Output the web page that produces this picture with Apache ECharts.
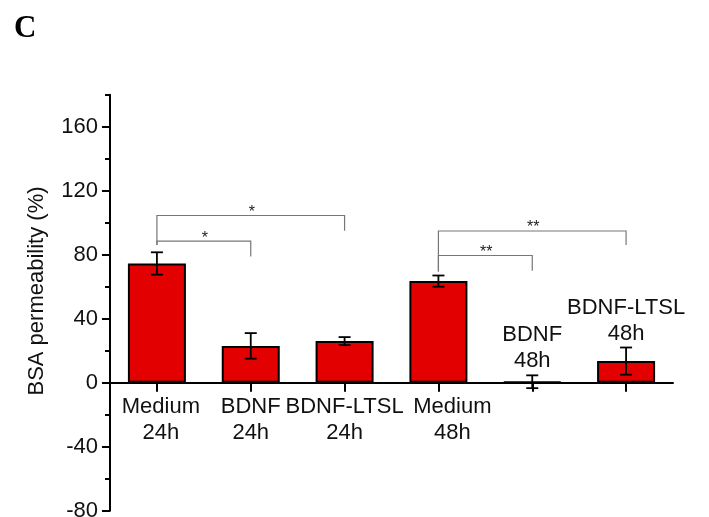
<!DOCTYPE html>
<html>
<head>
<meta charset="utf-8">
<script src="https://cdn.jsdelivr.net/npm/echarts@6/dist/echarts.min.js"></script>
<style>html,body{margin:0;padding:0;background:#fff}#c{width:709px;height:517px}</style>
</head>
<body>
<div id="c"></div>
<script>
// ---- data ----
var categories = ['Medium\n24h', 'BDNF\n24h', 'BDNF-LTSL\n24h', 'Medium\n48h', 'BDNF\n48h', 'BDNF-LTSL\n48h'];
var labelAbove = [false, false, false, false, true, true];
var values = [74.5, 23, 26, 63.5, 0.6, 13.5];
var errors = [7, 8, 2.5, 3.5, 4, 8.5];
var yTicks = [-80, -40, 0, 40, 80, 120, 160];
var yMin = -80, yMax = 180;
var bracketFrom = [0, 0, 3, 3];
var bracketTo = [1, 2, 4, 5];
var bracketLevel = [88.5, 104.5, 79.5, 94.8];
var bracketLeftEnd = [86, 86, 69.5, 69.5];
var bracketRightEnd = [78.8, 95, 70, 86];
var bracketLabels = ['*', '*', '**', '**'];

var FONT = 'Arial, "Liberation Sans", sans-serif';
var chart = echarts.init(document.getElementById('c'), null, {renderer: 'canvas'});

var GRID_TOP = 94.7, GRID_BOTTOM = 6.3, H = 517;
var plotH = H - GRID_TOP - GRID_BOTTOM;
// shift x axis from grid bottom up to the y = 0 line
var zeroOffset = -plotH * (0 - yMin) / (yMax - yMin);

// per-label horizontal nudges (style only)
var labelPadLeft = [8, 0, 0, 28, 0, 0];
var axisData = categories.map(function (c, i) {
  return {value: c, textStyle: {padding: [0, 0, 0, labelPadLeft[i]]}};
});

var errData = values.map(function (v, i) { return [i, v, errors[i]]; });
var brData = bracketFrom.map(function (f, i) {
  return [f, bracketTo[i], bracketLevel[i], bracketLeftEnd[i], bracketRightEnd[i]];
});

var option = {
  animation: false,
  backgroundColor: '#fff',
  grid: {left: 110, right: 36, top: GRID_TOP, bottom: GRID_BOTTOM, containLabel: false, outerBoundsMode: 'none'},
  graphic: [
    {type: 'text', left: 14, top: 13, style: {text: 'C', font: 'bold 31px "Liberation Serif", "Times New Roman", serif', fill: '#000'}},
    {type: 'text', x: 37, y: 291, rotation: Math.PI / 2,
     style: {text: 'BSA permeability (%)', font: '22px ' + FONT, fill: '#111', textAlign: 'center', textVerticalAlign: 'middle'}}
  ],
  xAxis: {
    type: 'category',
    data: axisData,
    position: 'bottom',
    offset: zeroOffset,
    axisLine: {onZero: false, lineStyle: {color: '#000', width: 2}},
    axisTick: {show: true, inside: false, alignWithLabel: true, length: 9, lineStyle: {color: '#000', width: 2}, interval: 0},
    axisLabel: {
      interval: 0, margin: 11, color: '#111', fontSize: 22, fontFamily: FONT, lineHeight: 26,
      formatter: function (val, idx) { return labelAbove[idx] ? ' ' : val; }
    },
    splitLine: {show: false}
  },
  yAxis: [
    {
      type: 'value', min: yMin, max: yMax,
      axisLine: {show: true, onZero: false, lineStyle: {color: '#000', width: 2}},
      axisTick: {show: true, length: 8, customValues: yTicks, lineStyle: {color: '#000', width: 2}},
      axisLabel: {customValues: yTicks, margin: 12, color: '#111', fontSize: 22, fontFamily: FONT},
      splitLine: {show: false}
    },
    {
      type: 'value', min: yMin, max: yMax, interval: 20, position: 'left',
      axisLine: {show: false, onZero: false},
      axisTick: {show: true, length: 5, lineStyle: {color: '#000', width: 2}},
      axisLabel: {show: false},
      splitLine: {show: false}
    }
  ],
  series: [
    {
      type: 'bar', data: values, barWidth: 58, yAxisIndex: 0,
      itemStyle: {color: '#e30000', borderColor: '#000', borderWidth: 2}
    },
    {
      type: 'custom', yAxisIndex: 0, data: errData, z: 5,
      renderItem: function (params, api) {
        var i = api.value(0), v = api.value(1), e = api.value(2);
        var top = api.coord([i, v + e]);
        var bot = api.coord([i, v - e]);
        var cw = 6;
        var st = {stroke: '#000', lineWidth: 1.8};
        var kids = [
          {type: 'line', shape: {x1: top[0], y1: top[1], x2: bot[0], y2: bot[1]}, style: st},
          {type: 'line', shape: {x1: top[0] - cw, y1: top[1], x2: top[0] + cw, y2: top[1]}, style: st},
          {type: 'line', shape: {x1: bot[0] - cw, y1: bot[1], x2: bot[0] + cw, y2: bot[1]}, style: st}
        ];
        if (labelAbove[params.dataIndex]) {
          kids.push({type: 'text', x: top[0], y: top[1] - 1,
            style: {text: categories[params.dataIndex], font: '22px ' + FONT, fill: '#111',
                    textAlign: 'center', textVerticalAlign: 'bottom', lineHeight: 26}});
        }
        return {type: 'group', children: kids};
      }
    },
    {
      type: 'custom', yAxisIndex: 0, data: brData, z: 4,
      renderItem: function (params, api) {
        var f = api.value(0), t = api.value(1), lv = api.value(2), le = api.value(3), re = api.value(4);
        var a = api.coord([f, lv]);
        var b = api.coord([t, lv]);
        var al = api.coord([f, le]);
        var br = api.coord([t, re]);
        var st = {stroke: '#777', lineWidth: 1.2};
        return {type: 'group', children: [
          {type: 'polyline', shape: {points: [[al[0], al[1]], [a[0], a[1]], [b[0], b[1]], [br[0], br[1]]]}, style: Object.assign({fill: null}, st)},
          {type: 'text', x: (a[0] + b[0]) / 2 + 1, y: a[1] - 3,
           style: {text: bracketLabels[params.dataIndex], font: '16px ' + FONT, fill: '#222',
                   textAlign: 'center', textVerticalAlign: 'middle'}}
        ]};
      }
    }
  ]
};
chart.setOption(option);
</script>
</body>
</html>
